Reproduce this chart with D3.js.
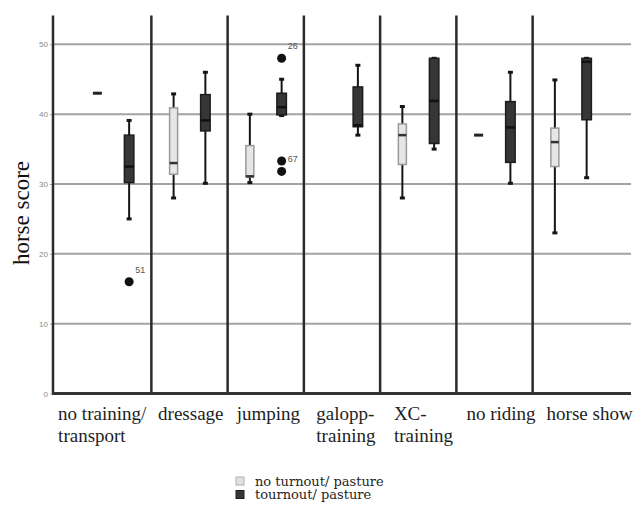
<!DOCTYPE html>
<html>
<head>
<meta charset="utf-8">
<script src="https://cdn.jsdelivr.net/npm/d3@7"></script>
<style>
  html, body { margin: 0; padding: 0; background: #fff; }
  svg { display: block; }
</style>
</head>
<body>
<script>
// data
const categories = ['no training/\ntransport', 'dressage', 'jumping', 'galopp-\ntraining', 'XC-\ntraining', 'no riding', 'horse show'];
const groups = ['no turnout/ pasture', 'tournout/ pasture'];
// [min, q1, median, q3, max] per category, null = no box
const noTurnout = [
  [43, 43, 43, 43, 43],
  [28, 31.4, 33, 40.9, 42.9],
  [30.2, 31, 31.1, 35.5, 40],
  null,
  [28, 32.8, 37, 38.6, 41.1],
  [37, 37, 37, 37, 37],
  [23, 32.5, 36, 38, 44.9]
];
const turnout = [
  [25, 30.2, 32.5, 37, 39.1],
  [30.1, 37.6, 39.1, 42.8, 46],
  [39.8, 39.9, 41, 43, 45],
  [37, 38.2, 38.4, 43.9, 47],
  [35, 35.8, 41.9, 48, 48],
  [30.1, 33.1, 38.1, 41.8, 46],
  [30.9, 39.2, 47.5, 48, 48]
];
const outliers = [
  { cat: 0, value: 16, label: '51' },
  { cat: 2, value: 48, label: '26' },
  { cat: 2, value: 33.3, label: '' },
  { cat: 2, value: 31.8, label: '67' }
];
const yTicks = [0, 10, 20, 30, 40, 50];

const width = 637;
const height = 505;
const plotLeft = 53;
const plotRight = 631;
const plotBottom = 393.5;
const plotTop = 16.4;

const svg = d3.select('body').append('svg')
  .attr('width', width)
  .attr('height', height)
  .attr('viewBox', [0, 0, width, height]);

const y = d3.scaleLinear().domain([0, 54]).range([plotBottom, plotTop]);
const x = d3.scaleBand().domain(d3.range(categories.length)).range([plotLeft, plotRight])
  .paddingInner(0).paddingOuter(0.29);
const xg = d3.scalePoint().domain([0, 1]).range([0, x.bandwidth()]).padding(0.7);

// Grid
svg.append('g')
  .selectAll('line')
  .data(yTicks.filter((d) => d > 0))
  .join('line')
  .attr('x1', plotLeft)
  .attr('x2', plotRight)
  .attr('y1', (d) => y(d))
  .attr('y2', (d) => y(d))
  .attr('stroke', '#a3a3a3')
  .attr('stroke-width', 2);

// Y axis
const yAxis = svg.append('g')
  .attr('transform', `translate(${plotLeft},0)`)
  .call(d3.axisLeft(y).tickValues(yTicks).tickSize(3).tickPadding(2));
yAxis.select('.domain').remove();
yAxis.selectAll('line').attr('stroke', '#aaa');
yAxis.selectAll('text')
  .attr('fill', '#8a8a8a')
  .style('font', '8px "Liberation Sans", sans-serif');

// Panel dividers
const dividers = [plotLeft].concat(d3.range(1, categories.length).map((i) => x(i)));
svg.append('g')
  .selectAll('line')
  .data(dividers)
  .join('line')
  .attr('x1', (d) => d)
  .attr('x2', (d) => d)
  .attr('y1', plotTop - 1)
  .attr('y2', plotBottom)
  .attr('stroke', '#2b2b2b')
  .attr('stroke-width', 2.5);

svg.append('line')
  .attr('x1', plotLeft - 1)
  .attr('x2', plotRight)
  .attr('y1', plotBottom)
  .attr('y2', plotBottom)
  .attr('stroke', '#333')
  .attr('stroke-width', 3);

// Boxes
const drawBoxes = (stats, gi, style) => {
  const g = svg.append('g');
  stats.forEach((s, i) => {
    if (!s) return;
    const [mn, q1, med, q3, mx] = s;
    const cx = x(i) + xg(gi);
    if (mn === mx) {
      g.append('line')
        .attr('x1', cx - 4.5).attr('x2', cx + 4.5)
        .attr('y1', y(med)).attr('y2', y(med))
        .attr('stroke', '#222').attr('stroke-width', 3);
      return;
    }
    g.append('line')
      .attr('x1', cx).attr('x2', cx)
      .attr('y1', y(mn)).attr('y2', y(mx))
      .attr('stroke', '#151515').attr('stroke-width', 2);
    [mn, mx].forEach((v) => {
      g.append('line')
        .attr('x1', cx - 2.5).attr('x2', cx + 2.5)
        .attr('y1', y(v)).attr('y2', y(v))
        .attr('stroke', '#151515').attr('stroke-width', 3);
    });
    g.append('rect')
      .attr('x', cx - style.w / 2)
      .attr('width', style.w)
      .attr('y', y(q3))
      .attr('height', y(q1) - y(q3))
      .attr('fill', style.fill)
      .attr('stroke', style.stroke)
      .attr('stroke-width', 1.5);
    g.append('line')
      .attr('x1', cx - style.w / 2).attr('x2', cx + style.w / 2)
      .attr('y1', y(med)).attr('y2', y(med))
      .attr('stroke', style.median).attr('stroke-width', 2.5);
  });
};
drawBoxes(noTurnout, 0, { w: 8, fill: '#e6e6e6', stroke: '#9a9a9a', median: '#333' });
drawBoxes(turnout, 1, { w: 9.5, fill: '#363636', stroke: '#1c1c1c', median: '#111' });

// Outliers
const out = svg.append('g');
out.selectAll('circle')
  .data(outliers)
  .join('circle')
  .attr('cx', (d) => x(d.cat) + xg(1))
  .attr('cy', (d) => y(d.value))
  .attr('r', 4.5)
  .attr('fill', '#111');
out.selectAll('text')
  .data(outliers)
  .join('text')
  .attr('x', (d) => x(d.cat) + xg(1) + 6)
  .attr('y', (d) => y(d.value) - 9)
  .attr('fill', '#555')
  .style('font', '9px "Liberation Sans", sans-serif')
  .text((d) => d.label);

// Category labels
const labels = svg.append('g')
  .attr('fill', '#1e1e1e')
  .style('font', '19px "Liberation Serif", serif');
categories.forEach((c, i) => {
  const l = i === 0 ? plotLeft : x(i);
  const r = i === categories.length - 1 ? plotRight : x(i) + x.bandwidth();
  const t = labels.append('text');
  t.selectAll('tspan')
    .data(c.split('\n'))
    .join('tspan')
    .attr('y', (d, j) => 420 + j * 21.5)
    .text((d) => d);
  const w = d3.max(t.selectAll('tspan').nodes(), (n) => n.getComputedTextLength());
  // labels drift a little right of the panel centre in the original
  t.selectAll('tspan').attr('x', (l + r) / 2 - w / 2 + i * 1.3);
});

// Y label
svg.append('text')
  .attr('transform', 'translate(29,213) rotate(-90)')
  .attr('text-anchor', 'middle')
  .attr('fill', '#111')
  .style('font', '23px "Liberation Serif", serif')
  .text('horse score');

// Legend
const legend = svg.append('g')
  .selectAll('g')
  .data(groups)
  .join('g')
  .attr('transform', (d, i) => `translate(236,${477 + i * 13.5})`);
legend.append('rect')
  .attr('width', 8)
  .attr('height', 8)
  .attr('fill', (d, i) => (i ? '#363636' : '#e0e0e0'))
  .attr('stroke', (d, i) => (i ? '#1c1c1c' : '#b0b0b0'));
legend.append('text')
  .attr('x', 19)
  .attr('y', 8.5)
  .attr('fill', '#1e1e1e')
  .style('font', '13px "DejaVu Serif", serif')
  .text((d) => d);
</script>
</body>
</html>
